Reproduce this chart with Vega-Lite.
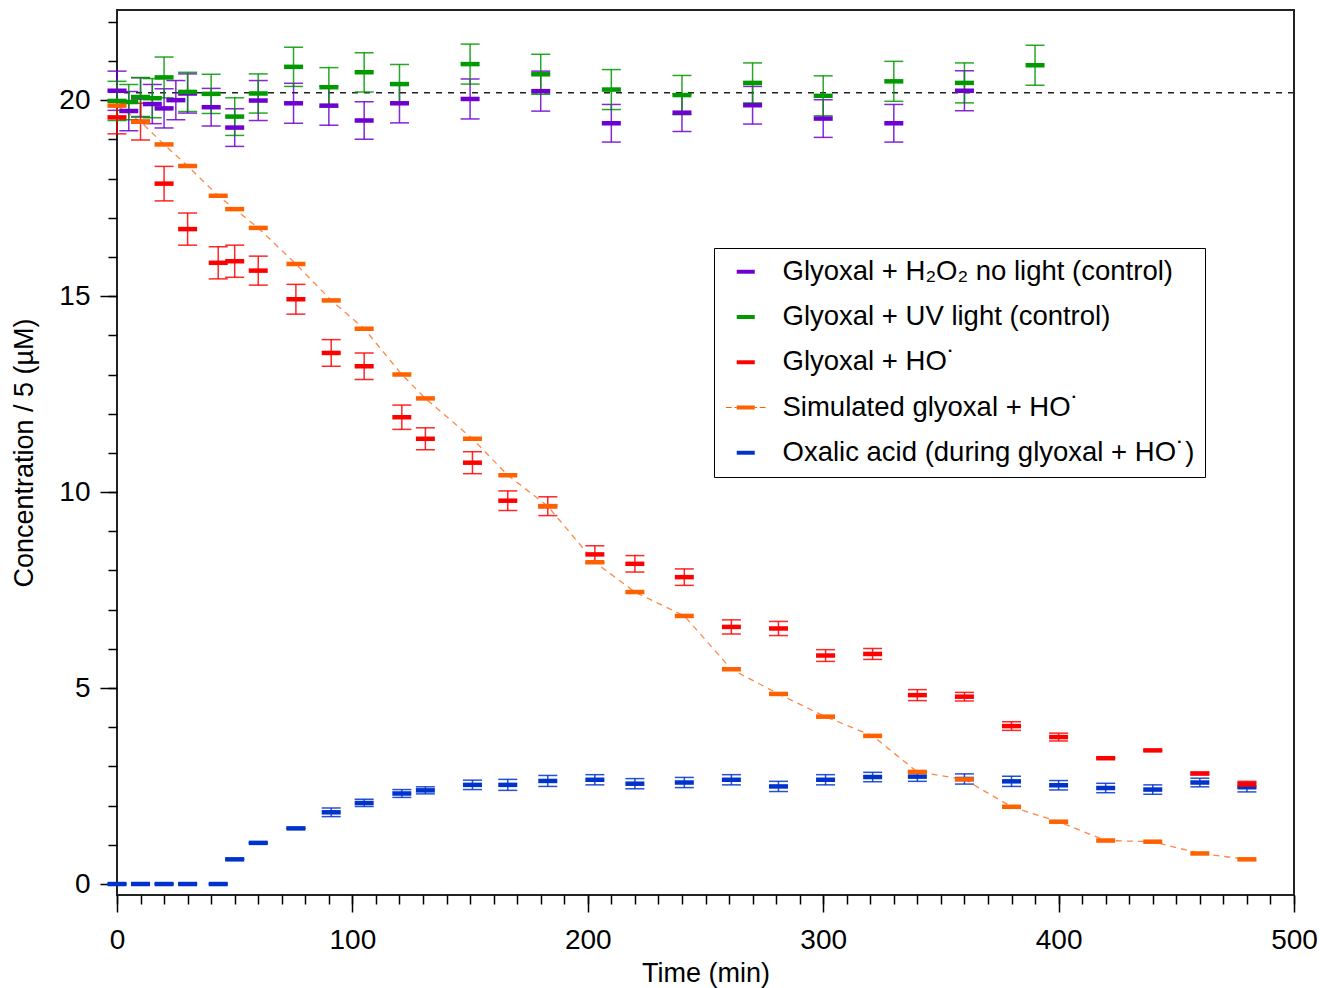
{
  "$schema": "https://vega.github.io/schema/vega-lite/v6.json",
  "width": 1177,
  "height": 885,
  "autosize": {"type": "none"},
  "padding": {"left": 117, "top": 10, "right": 26, "bottom": 93},
  "background": "white",
  "config": {
    "font": "Liberation Sans",
    "view": {"stroke": "#222", "strokeWidth": 2},
    "axis": {"labelColor": "#000", "titleColor": "#000", "tickColor": "#000", "labelFont": "Liberation Sans", "titleFont": "Liberation Sans"}
  },
  "datasets": {
    "pts": [
      {"series": "Glyoxal + H₂O₂ no light (control)", "time": 0, "conc": 20.24, "err": 0.5},
      {"series": "Glyoxal + H₂O₂ no light (control)", "time": 5, "conc": 19.72, "err": 0.5},
      {"series": "Glyoxal + H₂O₂ no light (control)", "time": 10, "conc": 20.07, "err": 0.5},
      {"series": "Glyoxal + H₂O₂ no light (control)", "time": 15, "conc": 19.9, "err": 0.5},
      {"series": "Glyoxal + H₂O₂ no light (control)", "time": 20, "conc": 19.79, "err": 0.5},
      {"series": "Glyoxal + H₂O₂ no light (control)", "time": 25, "conc": 20.0, "err": 0.5},
      {"series": "Glyoxal + H₂O₂ no light (control)", "time": 30, "conc": 20.17, "err": 0.5},
      {"series": "Glyoxal + H₂O₂ no light (control)", "time": 40, "conc": 19.82, "err": 0.48},
      {"series": "Glyoxal + H₂O₂ no light (control)", "time": 50, "conc": 19.3, "err": 0.48},
      {"series": "Glyoxal + H₂O₂ no light (control)", "time": 60, "conc": 19.99, "err": 0.51},
      {"series": "Glyoxal + H₂O₂ no light (control)", "time": 75, "conc": 19.92, "err": 0.51},
      {"series": "Glyoxal + H₂O₂ no light (control)", "time": 90, "conc": 19.86, "err": 0.5},
      {"series": "Glyoxal + H₂O₂ no light (control)", "time": 105, "conc": 19.48, "err": 0.48},
      {"series": "Glyoxal + H₂O₂ no light (control)", "time": 120, "conc": 19.92, "err": 0.5},
      {"series": "Glyoxal + H₂O₂ no light (control)", "time": 150, "conc": 20.03, "err": 0.51},
      {"series": "Glyoxal + H₂O₂ no light (control)", "time": 180, "conc": 20.23, "err": 0.51},
      {"series": "Glyoxal + H₂O₂ no light (control)", "time": 210, "conc": 19.41, "err": 0.48},
      {"series": "Glyoxal + H₂O₂ no light (control)", "time": 240, "conc": 19.68, "err": 0.48},
      {"series": "Glyoxal + H₂O₂ no light (control)", "time": 270, "conc": 19.87, "err": 0.48},
      {"series": "Glyoxal + H₂O₂ no light (control)", "time": 300, "conc": 19.53, "err": 0.48},
      {"series": "Glyoxal + H₂O₂ no light (control)", "time": 330, "conc": 19.41, "err": 0.48},
      {"series": "Glyoxal + H₂O₂ no light (control)", "time": 360, "conc": 20.24, "err": 0.51},
      {"series": "Glyoxal + UV light (control)", "time": 0, "conc": 19.98, "err": 0.5},
      {"series": "Glyoxal + UV light (control)", "time": 5, "conc": 19.95, "err": 0.45},
      {"series": "Glyoxal + UV light (control)", "time": 10, "conc": 20.08, "err": 0.5},
      {"series": "Glyoxal + UV light (control)", "time": 15, "conc": 20.05, "err": 0.5},
      {"series": "Glyoxal + UV light (control)", "time": 20, "conc": 20.58, "err": 0.52},
      {"series": "Glyoxal + UV light (control)", "time": 30, "conc": 20.21, "err": 0.5},
      {"series": "Glyoxal + UV light (control)", "time": 40, "conc": 20.16, "err": 0.5},
      {"series": "Glyoxal + UV light (control)", "time": 50, "conc": 19.58, "err": 0.48},
      {"series": "Glyoxal + UV light (control)", "time": 60, "conc": 20.17, "err": 0.5},
      {"series": "Glyoxal + UV light (control)", "time": 75, "conc": 20.85, "err": 0.5},
      {"series": "Glyoxal + UV light (control)", "time": 90, "conc": 20.33, "err": 0.5},
      {"series": "Glyoxal + UV light (control)", "time": 105, "conc": 20.71, "err": 0.5},
      {"series": "Glyoxal + UV light (control)", "time": 120, "conc": 20.41, "err": 0.5},
      {"series": "Glyoxal + UV light (control)", "time": 150, "conc": 20.92, "err": 0.51},
      {"series": "Glyoxal + UV light (control)", "time": 180, "conc": 20.66, "err": 0.51},
      {"series": "Glyoxal + UV light (control)", "time": 210, "conc": 20.27, "err": 0.51},
      {"series": "Glyoxal + UV light (control)", "time": 240, "conc": 20.13, "err": 0.5},
      {"series": "Glyoxal + UV light (control)", "time": 270, "conc": 20.44, "err": 0.51},
      {"series": "Glyoxal + UV light (control)", "time": 300, "conc": 20.11, "err": 0.51},
      {"series": "Glyoxal + UV light (control)", "time": 330, "conc": 20.48, "err": 0.51},
      {"series": "Glyoxal + UV light (control)", "time": 360, "conc": 20.44, "err": 0.51},
      {"series": "Glyoxal + UV light (control)", "time": 390, "conc": 20.89, "err": 0.51},
      {"series": "Oxalic acid (during glyoxal + HO˙)", "time": 0, "conc": 0, "err": 0},
      {"series": "Oxalic acid (during glyoxal + HO˙)", "time": 10, "conc": 0, "err": 0},
      {"series": "Oxalic acid (during glyoxal + HO˙)", "time": 20, "conc": 0, "err": 0},
      {"series": "Oxalic acid (during glyoxal + HO˙)", "time": 30, "conc": 0, "err": 0},
      {"series": "Oxalic acid (during glyoxal + HO˙)", "time": 43, "conc": 0, "err": 0},
      {"series": "Oxalic acid (during glyoxal + HO˙)", "time": 50, "conc": 0.63, "err": 0},
      {"series": "Oxalic acid (during glyoxal + HO˙)", "time": 60, "conc": 1.05, "err": 0},
      {"series": "Oxalic acid (during glyoxal + HO˙)", "time": 76, "conc": 1.42, "err": 0},
      {"series": "Oxalic acid (during glyoxal + HO˙)", "time": 91, "conc": 1.83, "err": 0.11},
      {"series": "Oxalic acid (during glyoxal + HO˙)", "time": 105, "conc": 2.07, "err": 0.09},
      {"series": "Oxalic acid (during glyoxal + HO˙)", "time": 121, "conc": 2.31, "err": 0.1},
      {"series": "Oxalic acid (during glyoxal + HO˙)", "time": 131, "conc": 2.39, "err": 0.09},
      {"series": "Oxalic acid (during glyoxal + HO˙)", "time": 151, "conc": 2.53, "err": 0.12},
      {"series": "Oxalic acid (during glyoxal + HO˙)", "time": 166, "conc": 2.53, "err": 0.14},
      {"series": "Oxalic acid (during glyoxal + HO˙)", "time": 183, "conc": 2.63, "err": 0.14},
      {"series": "Oxalic acid (during glyoxal + HO˙)", "time": 203, "conc": 2.66, "err": 0.13},
      {"series": "Oxalic acid (during glyoxal + HO˙)", "time": 220, "conc": 2.56, "err": 0.13},
      {"series": "Oxalic acid (during glyoxal + HO˙)", "time": 241, "conc": 2.59, "err": 0.13},
      {"series": "Oxalic acid (during glyoxal + HO˙)", "time": 261, "conc": 2.66, "err": 0.13},
      {"series": "Oxalic acid (during glyoxal + HO˙)", "time": 281, "conc": 2.49, "err": 0.13},
      {"series": "Oxalic acid (during glyoxal + HO˙)", "time": 301, "conc": 2.66, "err": 0.13},
      {"series": "Oxalic acid (during glyoxal + HO˙)", "time": 321, "conc": 2.73, "err": 0.12},
      {"series": "Oxalic acid (during glyoxal + HO˙)", "time": 340, "conc": 2.74, "err": 0.12},
      {"series": "Oxalic acid (during glyoxal + HO˙)", "time": 360, "conc": 2.68, "err": 0.13},
      {"series": "Oxalic acid (during glyoxal + HO˙)", "time": 380, "conc": 2.62, "err": 0.13},
      {"series": "Oxalic acid (during glyoxal + HO˙)", "time": 400, "conc": 2.52, "err": 0.12},
      {"series": "Oxalic acid (during glyoxal + HO˙)", "time": 420, "conc": 2.45, "err": 0.12},
      {"series": "Oxalic acid (during glyoxal + HO˙)", "time": 440, "conc": 2.41, "err": 0.12},
      {"series": "Oxalic acid (during glyoxal + HO˙)", "time": 460, "conc": 2.59, "err": 0.11},
      {"series": "Oxalic acid (during glyoxal + HO˙)", "time": 480, "conc": 2.47, "err": 0.12},
      {"series": "Glyoxal + HO˙", "time": 0, "conc": 19.56, "err": 0.42},
      {"series": "Glyoxal + HO˙", "time": 10, "conc": 19.45, "err": 0.47},
      {"series": "Glyoxal + HO˙", "time": 20, "conc": 17.87, "err": 0.44},
      {"series": "Glyoxal + HO˙", "time": 30, "conc": 16.71, "err": 0.41},
      {"series": "Glyoxal + HO˙", "time": 43, "conc": 15.85, "err": 0.41},
      {"series": "Glyoxal + HO˙", "time": 50, "conc": 15.89, "err": 0.41},
      {"series": "Glyoxal + HO˙", "time": 60, "conc": 15.65, "err": 0.37},
      {"series": "Glyoxal + HO˙", "time": 76, "conc": 14.92, "err": 0.38},
      {"series": "Glyoxal + HO˙", "time": 91, "conc": 13.55, "err": 0.34},
      {"series": "Glyoxal + HO˙", "time": 105, "conc": 13.21, "err": 0.34},
      {"series": "Glyoxal + HO˙", "time": 121, "conc": 11.91, "err": 0.31},
      {"series": "Glyoxal + HO˙", "time": 131, "conc": 11.36, "err": 0.28},
      {"series": "Glyoxal + HO˙", "time": 151, "conc": 10.75, "err": 0.28},
      {"series": "Glyoxal + HO˙", "time": 166, "conc": 9.78, "err": 0.25},
      {"series": "Glyoxal + HO˙", "time": 183, "conc": 9.64, "err": 0.24},
      {"series": "Glyoxal + HO˙", "time": 203, "conc": 8.41, "err": 0.22},
      {"series": "Glyoxal + HO˙", "time": 220, "conc": 8.17, "err": 0.21},
      {"series": "Glyoxal + HO˙", "time": 241, "conc": 7.83, "err": 0.21},
      {"series": "Glyoxal + HO˙", "time": 261, "conc": 6.56, "err": 0.18},
      {"series": "Glyoxal + HO˙", "time": 281, "conc": 6.52, "err": 0.18},
      {"series": "Glyoxal + HO˙", "time": 301, "conc": 5.83, "err": 0.15},
      {"series": "Glyoxal + HO˙", "time": 321, "conc": 5.87, "err": 0.14},
      {"series": "Glyoxal + HO˙", "time": 340, "conc": 4.82, "err": 0.14},
      {"series": "Glyoxal + HO˙", "time": 360, "conc": 4.78, "err": 0.11},
      {"series": "Glyoxal + HO˙", "time": 380, "conc": 4.03, "err": 0.11},
      {"series": "Glyoxal + HO˙", "time": 400, "conc": 3.75, "err": 0.1},
      {"series": "Glyoxal + HO˙", "time": 420, "conc": 3.21, "err": 0},
      {"series": "Glyoxal + HO˙", "time": 440, "conc": 3.41, "err": 0},
      {"series": "Glyoxal + HO˙", "time": 460, "conc": 2.82, "err": 0.03},
      {"series": "Glyoxal + HO˙", "time": 480, "conc": 2.54, "err": 0.08},
      {"series": "Simulated glyoxal + HO˙", "time": 0, "conc": 19.86, "err": 0},
      {"series": "Simulated glyoxal + HO˙", "time": 10, "conc": 19.45, "err": 0},
      {"series": "Simulated glyoxal + HO˙", "time": 20, "conc": 18.87, "err": 0},
      {"series": "Simulated glyoxal + HO˙", "time": 30, "conc": 18.32, "err": 0},
      {"series": "Simulated glyoxal + HO˙", "time": 43, "conc": 17.56, "err": 0},
      {"series": "Simulated glyoxal + HO˙", "time": 50, "conc": 17.22, "err": 0},
      {"series": "Simulated glyoxal + HO˙", "time": 60, "conc": 16.74, "err": 0},
      {"series": "Simulated glyoxal + HO˙", "time": 76, "conc": 15.82, "err": 0},
      {"series": "Simulated glyoxal + HO˙", "time": 91, "conc": 14.89, "err": 0},
      {"series": "Simulated glyoxal + HO˙", "time": 105, "conc": 14.17, "err": 0},
      {"series": "Simulated glyoxal + HO˙", "time": 121, "conc": 13.0, "err": 0},
      {"series": "Simulated glyoxal + HO˙", "time": 131, "conc": 12.39, "err": 0},
      {"series": "Simulated glyoxal + HO˙", "time": 151, "conc": 11.36, "err": 0},
      {"series": "Simulated glyoxal + HO˙", "time": 166, "conc": 10.43, "err": 0},
      {"series": "Simulated glyoxal + HO˙", "time": 183, "conc": 9.64, "err": 0},
      {"series": "Simulated glyoxal + HO˙", "time": 203, "conc": 8.21, "err": 0},
      {"series": "Simulated glyoxal + HO˙", "time": 220, "conc": 7.45, "err": 0},
      {"series": "Simulated glyoxal + HO˙", "time": 241, "conc": 6.84, "err": 0},
      {"series": "Simulated glyoxal + HO˙", "time": 261, "conc": 5.48, "err": 0},
      {"series": "Simulated glyoxal + HO˙", "time": 281, "conc": 4.85, "err": 0},
      {"series": "Simulated glyoxal + HO˙", "time": 301, "conc": 4.27, "err": 0},
      {"series": "Simulated glyoxal + HO˙", "time": 321, "conc": 3.78, "err": 0},
      {"series": "Simulated glyoxal + HO˙", "time": 340, "conc": 2.86, "err": 0},
      {"series": "Simulated glyoxal + HO˙", "time": 360, "conc": 2.67, "err": 0},
      {"series": "Simulated glyoxal + HO˙", "time": 380, "conc": 1.97, "err": 0},
      {"series": "Simulated glyoxal + HO˙", "time": 400, "conc": 1.59, "err": 0},
      {"series": "Simulated glyoxal + HO˙", "time": 420, "conc": 1.11, "err": 0},
      {"series": "Simulated glyoxal + HO˙", "time": 440, "conc": 1.08, "err": 0},
      {"series": "Simulated glyoxal + HO˙", "time": 460, "conc": 0.78, "err": 0},
      {"series": "Simulated glyoxal + HO˙", "time": 480, "conc": 0.63, "err": 0}
    ],
    "ref": [{"level": 20.19}]
  },
  "resolve": {"axis": {"x": "independent", "y": "independent"}, "legend": {"color": "independent"}},
  "layer": [
    {
      "data": {"name": "ref"},
      "mark": {"type": "rule", "color": "#222", "strokeWidth": 1.5, "strokeDash": [6, 6]},
      "encoding": {
        "y": {"field": "level", "type": "quantitative", "scale": {"domain": [-0.28, 22.3], "nice": false, "zero": false}, "axis": null}
      }
    },
    {
      "data": {"name": "pts"},
      "transform": [{"filter": "datum.series === 'Simulated glyoxal + HO˙'"}],
      "mark": {"type": "line", "color": "#ff7a30", "strokeWidth": 1.3, "strokeDash": [6, 5], "opacity": 0.9},
      "encoding": {
        "x": {"field": "time", "type": "quantitative", "scale": {"domain": [0, 500], "nice": false, "zero": false},
          "axis": {"orient": "bottom", "values": [0,10,20,30,40,50,60,70,80,90,100,110,120,130,140,150,160,170,180,190,200,210,220,230,240,250,260,270,280,290,300,310,320,330,340,350,360,370,380,390,400,410,420,430,440,450,460,470,480,490,500],
            "labels": false, "domain": false, "grid": false, "title": null, "tickSize": 9, "tickWidth": 1.5}},
        "y": {"field": "conc", "type": "quantitative", "scale": {"domain": [-0.28, 22.3], "nice": false, "zero": false},
          "axis": {"orient": "left", "values": [0,1,2,3,4,5,6,7,8,9,10,11,12,13,14,15,16,17,18,19,20,21,22],
            "labels": false, "domain": false, "grid": false, "title": null, "tickSize": 9, "tickWidth": 1.5}}
      }
    },
    {
      "data": {"name": "pts"},
      "transform": [{"filter": "datum.series !== 'Simulated glyoxal + HO˙'"}],
      "mark": {"type": "errorbar", "ticks": true, "size": 19, "thickness": 1.5, "opacity": 0.85},
      "encoding": {
        "x": {"field": "time", "type": "quantitative", "scale": {"domain": [0, 500], "nice": false, "zero": false}, "axis": null},
        "y": {"field": "conc", "type": "quantitative", "scale": {"domain": [-0.28, 22.3], "nice": false, "zero": false}, "axis": null},
        "yError": {"field": "err"},
        "color": {"field": "series", "type": "nominal", "legend": null,
          "scale": {"domain": ["Glyoxal + H₂O₂ no light (control)", "Glyoxal + UV light (control)", "Glyoxal + HO˙", "Simulated glyoxal + HO˙", "Oxalic acid (during glyoxal + HO˙)"],
            "range": ["#6e00d2", "#009900", "#ff0000", "#ff6000", "#0033cc"]}}
      }
    },
    {
      "data": {"name": "pts"},
      "mark": {"type": "tick", "orient": "horizontal", "size": 19, "thickness": 4.5, "opacity": 1},
      "encoding": {
        "x": {"field": "time", "type": "quantitative", "scale": {"domain": [0, 500], "nice": false, "zero": false},
          "axis": {"orient": "bottom", "values": [0, 100, 200, 300, 400, 500], "title": "Time (min)", "domain": false, "grid": false,
            "tickSize": 17, "tickWidth": 1.5, "labelFontSize": 28, "labelPadding": 14, "labelFlush": false, "labelOverlap": false,
            "titleFontSize": 27, "titleFontWeight": "normal", "titlePadding": 6}},
        "y": {"field": "conc", "type": "quantitative", "scale": {"domain": [-0.28, 22.3], "nice": false, "zero": false},
          "axis": {"orient": "left", "values": [0, 5, 10, 15, 20], "title": "Concentration / 5 (µM)", "domain": false, "grid": false,
            "tickSize": 17, "tickWidth": 1.5, "labelFontSize": 28, "labelPadding": 10, "labelFlush": false, "labelOverlap": false,
            "titleFontSize": 27, "titleFontWeight": "normal", "titlePadding": 20}},
        "color": {"field": "series", "type": "nominal",
          "scale": {"domain": ["Glyoxal + H₂O₂ no light (control)", "Glyoxal + UV light (control)", "Glyoxal + HO˙", "Simulated glyoxal + HO˙", "Oxalic acid (during glyoxal + HO˙)"],
            "range": ["#6e00d2", "#009900", "#ff0000", "#ff6000", "#0033cc"]},
          "legend": {"orient": "none", "legendX": 597, "legendY": 238, "title": null,
            "strokeColor": "#000", "fillColor": "#fff", "padding": 10, "symbolOffset": 8,
            "labelFontSize": 27.5, "labelFont": "Liberation Sans", "labelColor": "#000", "labelLimit": 0,
            "labelExpr": "datum.label + '   '",
            "symbolType": "M-1,-0.22H1V0.22H-1Z", "symbolSize": 324, "symbolStrokeWidth": 0, "symbolOpacity": 1,
            "rowPadding": 16.25, "labelOffset": 23,
            "encode": {"symbols": {"update": {"shape": {"signal": "datum.value === 'Simulated glyoxal + HO˙' ? 'M-2.2,-0.06H-1.55V0.06H-2.2Z M-1.25,-0.06H-1.02V0.06H-1.25Z M-1,-0.22H1V0.22H-1Z M1.02,-0.06H1.25V0.06H1.02Z M1.55,-0.06H2.2V0.06H1.55Z' : 'M-1,-0.22H1V0.22H-1Z'"}}}}
          }}
      }
    }
  ]
}
